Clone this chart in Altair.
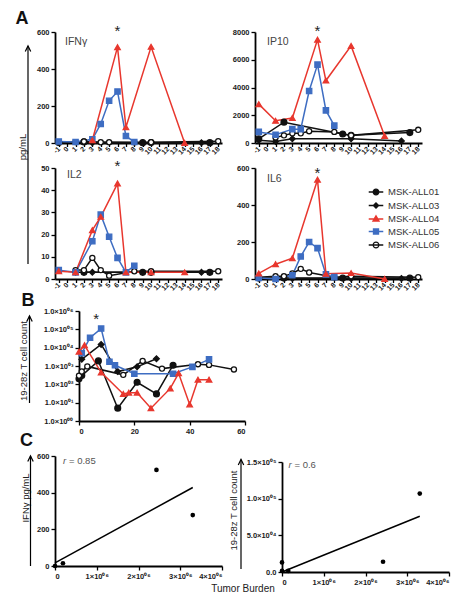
import altair as alt
import pandas as pd

PATIENTS = ["MSK-ALL01", "MSK-ALL03", "MSK-ALL04", "MSK-ALL05", "MSK-ALL06"]
DRAW_ORDER = ["MSK-ALL01", "MSK-ALL03", "MSK-ALL06", "MSK-ALL05", "MSK-ALL04"]
DAYS = [str(d) for d in [-1, 0, 1, 2, 3, 4, 5, 6, 7, 8, 9, 10, 11, 12, 13, 14, 15, 16, 17, 18]]

RED = "#e8372e"
BLUE = "#3e6dc2"
BLK = "#111111"
COLOR_RANGE = [BLK, BLK, RED, BLUE, BLK]
FILL_RANGE = [BLK, BLK, RED, BLUE, "#ffffff"]
SHAPE_RANGE = ["circle", "diamond", "triangle-up", "square", "circle"]
SIZE_RANGE = [34, 26, 38, 36, 40]
LEG_SHAPES = [
    "M-1.15,0H1.15M0.45,0A0.45,0.45,0,1,1,-0.45,0A0.45,0.45,0,1,1,0.45,0Z",
    "M-1.15,0H1.15M0,-0.42L0.42,0L0,0.42L-0.42,0Z",
    "M-1.15,0H1.15M0,-0.5L0.48,0.32L-0.48,0.32Z",
    "M-1.15,0H1.15M-0.4,-0.4H0.4V0.4H-0.4Z",
    "M-1.15,0H1.15M0.45,0A0.45,0.45,0,1,1,-0.45,0A0.45,0.45,0,1,1,0.45,0Z",
]

# ---- Panel A (day, value) per patient ----
IFNG = {
    "MSK-ALL01": ([-1, 2, 9, 10, 17], [3, 6, 2, 3, 2]),
    "MSK-ALL03": ([3, 9, 16], [2, 2, 2]),
    "MSK-ALL04": ([3, 6, 7, 10, 14], [15, 518, 85, 520, 0]),
    "MSK-ALL05": ([-1, 1, 3, 4, 5, 6, 7, 8], [8, 5, 20, 103, 228, 278, 38, 5]),
    "MSK-ALL06": ([-1, 1, 2, 4, 5, 8, 10, 18], [5, 5, 8, 4, 4, 4, 4, 10]),
}
IP10 = {
    "MSK-ALL01": ([-1, 2, 9, 10, 17], [300, 1500, 650, 550, 750]),
    "MSK-ALL03": ([-1, 1, 3, 10, 16], [200, 100, 300, 300, 150]),
    "MSK-ALL04": ([-1, 1, 3, 6, 7, 10, 14], [2800, 1600, 1800, 7450, 4500, 7000, 500]),
    "MSK-ALL05": ([-1, 1, 3, 4, 5, 6, 7, 8], [800, 600, 1000, 1000, 3750, 5650, 2350, 1250]),
    "MSK-ALL06": ([1, 2, 3, 4, 5, 8, 10, 18], [400, 550, 700, 700, 850, 800, 550, 950]),
}
IL2 = {
    "MSK-ALL01": ([2, 9, 10, 17], [3, 3, 3, 3]),
    "MSK-ALL03": ([1, 3, 16], [3, 3, 3]),
    "MSK-ALL04": ([-1, 1, 3, 4, 6, 7, 10, 14], [3.5, 3, 22, 28, 43, 3, 3, 3]),
    "MSK-ALL05": ([-1, 1, 3, 4, 5, 6, 7, 8], [4, 3, 17, 29, 19, 9.5, 3, 6]),
    "MSK-ALL06": ([1, 2, 3, 4, 5, 8, 10, 18], [4, 4, 9.5, 4, 1.5, 3.5, 3.5, 3.5]),
}
IL6 = {
    "MSK-ALL01": ([-1, 2, 9, 17], [5, 5, 5, 5]),
    "MSK-ALL03": ([3, 10, 16], [3, 3, 3]),
    "MSK-ALL04": ([-1, 1, 3, 6, 7, 10, 14], [30, 80, 112, 537, 28, 32, 0]),
    "MSK-ALL05": ([-1, 1, 3, 4, 5, 6, 7, 8], [5, 0, 20, 122, 200, 167, 25, 10]),
    "MSK-ALL06": ([-1, 1, 2, 3, 4, 5, 8, 10, 18], [10, 15, 15, 30, 55, 35, 10, 15, 10]),
}

# ---- Panel B: 19-28z T cell counts ----
TCELL = {
    "MSK-ALL01": ([0, 1, 7, 14, 21, 28, 34], [200, 300, 1900, 5, 130, 30, 1100]),
    "MSK-ALL03": ([1, 8, 14, 21, 28], [2300, 15000, 500, 900, 2500]),
    "MSK-ALL04": ([0, 2, 8, 16, 18, 21, 26, 33, 36, 40, 43, 47],
                  [6000, 13500, 450, 30, 35, 35, 5, 60, 400, 8, 180, 180]),
    "MSK-ALL05": ([1, 4, 8, 11, 13, 20, 34, 41, 47],
                  [5000, 35000, 110000, 1700, 1100, 380, 380, 900, 2300]),
    "MSK-ALL06": ([0, 1, 3, 16, 23, 30, 43, 47, 56],
                  [300, 500, 950, 330, 1900, 720, 1250, 1150, 650]),
}

# ---- Panel C ----
BURDEN_L = [0, 190000, 2430000, 3300000]
IFNG_PEAK = [0, 15, 524, 278]
FIT_L_X = [0, 3300000]
FIT_L_Y = [17, 428]
BURDEN_R = [0, 0, 150000, 2420000, 3300000]
TCELL_PEAK = [13000, 1500, 1500, 14000, 107000]
FIT_R_X = [0, 3300000]
FIT_R_Y = [0, 76000]

FONT = "Liberation Sans"
ONE = pd.DataFrame({"k": [0]})

color_sc = alt.Scale(domain=PATIENTS, range=COLOR_RANGE)
fill_sc = alt.Scale(domain=PATIENTS, range=FILL_RANGE)
shape_sc = alt.Scale(domain=PATIENTS, range=SHAPE_RANGE)
size_sc = alt.Scale(domain=PATIENTS, range=SIZE_RANGE)

# layout constants (pixels)
CELL_W = 167
B_DX, B_DY, B_H = 24, 7, 117
CL_DY, CL_H = 10, 120
CR_DX, CR_DY, CR_H = 27, 16, 126


def long_df(d, categorical=True):
    rows = []
    for p in DRAW_ORDER:
        days, vals = d[p]
        for dd, v in zip(days, vals):
            rows.append({"patient": p, "day": str(dd) if categorical else dd,
                         "idx": DAYS.index(str(dd)) if categorical else dd, "value": v})
    return pd.DataFrame(rows)


def txt(text, x, y, size=9.5, **kw):
    return alt.Chart(ONE).mark_text(text=text, fontSize=size, font=FONT, **kw).encode(
        x=alt.value(x), y=alt.value(y))


def arrow(x, y1, y2):
    line = alt.Chart(ONE).mark_rule(color="black", strokeWidth=1.2).encode(
        x=alt.value(x), y=alt.value(y1), y2=alt.value(y2))
    head = alt.Chart(ONE).mark_point(shape="M-1,1L0,-1L1,1", filled=False, color="black",
                                     strokeWidth=1.2, size=30, opacity=1).encode(
        x=alt.value(x), y=alt.value(y1 + 2.7))
    return [line, head]


def series_layers(df, x, y):
    lines = alt.Chart(df).mark_line(strokeWidth=1.5).encode(
        x=x, y=y, color=alt.Color("patient:N", scale=color_sc, legend=None),
        detail="patient:N", order="idx:Q")
    pts = alt.Chart(df).mark_point(filled=True, opacity=1, strokeWidth=1.3).encode(
        x=x, y=y,
        fill=alt.Fill("patient:N", scale=fill_sc, legend=None),
        stroke=alt.Stroke("patient:N", scale=color_sc, legend=None),
        shape=alt.Shape("patient:N", scale=shape_sc, legend=None),
        size=alt.Size("patient:N", scale=size_sc, legend=None))
    return [lines, pts]


def cyto_panel(d, ymax, ystep, label, lab_xy, star_y, extra=None, legend=False):
    df = long_df(d)
    x = alt.X("day:N", sort=DAYS, scale=alt.Scale(domain=DAYS, type="point", padding=0.45),
              axis=alt.Axis(title=None, labelAngle=-45, labelAlign="right", labelBaseline="middle",
                            labelFontSize=7, labelOverlap=False, labelPadding=1, tickSize=3.5))
    y = alt.Y("value:Q", scale=alt.Scale(domain=[0, ymax], nice=False, zero=True),
              axis=alt.Axis(title=None, values=list(range(0, ymax + 1, ystep)), format="d"))
    layers = series_layers(df, x, y)
    star = alt.Chart(pd.DataFrame({"day": ["6"]})).mark_text(
        text="*", fontSize=15, font=FONT, color="#222", baseline="middle").encode(
        x=alt.X("day:N", sort=DAYS), y=alt.value(star_y))
    layers += [star, txt(label, lab_xy[0], lab_xy[1], 10.5, color="#444", align="left", baseline="middle")]
    if extra:
        layers += extra
    if legend:
        leg_df = pd.DataFrame({"patient": pd.Series([], dtype=str)})
        lg = alt.Legend(title=None, orient="none", legendX=114, legendY=17, symbolSize=160,
                        symbolStrokeWidth=1.3, labelFontSize=9.5, labelColor="#333", labelFont=FONT,
                        labelFontWeight="normal", rowPadding=0.5, labelOffset=5, padding=0)
        leg = alt.Chart(leg_df).mark_point(filled=True, opacity=1).encode(
            shape=alt.Shape("patient:N", scale=alt.Scale(domain=PATIENTS, range=LEG_SHAPES), legend=lg),
            fill=alt.Fill("patient:N", scale=alt.Scale(domain=PATIENTS, range=FILL_RANGE), legend=lg),
            stroke=alt.Stroke("patient:N", scale=alt.Scale(domain=PATIENTS, range=COLOR_RANGE), legend=lg))
        layers.append(leg)
        ch = alt.layer(*layers).resolve_scale(shape="independent", fill="independent",
                                              stroke="independent")
    else:
        ch = alt.layer(*layers)
    return ch.properties(width=CELL_W, height=111)


A_extra = [txt("A", -33, -13, 18, fontWeight="bold", align="center", baseline="middle", color="#111"),
           txt("pg/mL", -32, 115, 9.5, angle=270, align="center", baseline="middle", color="#222")] + arrow(-27, 14, 232)

ifng = cyto_panel(IFNG, 600, 200, "IFN\u03b3", (10, 10), -1, extra=A_extra)
ip10 = cyto_panel(IP10, 8000, 2000, "IP10", (12, 10), -1)
il2 = cyto_panel(IL2, 50, 10, "IL2", (12, 7), -2)
il6 = cyto_panel(IL6, 600, 200, "IL6", (12, 11), 5, legend=True)

# ---- Panel B ----
dfb = long_df(TCELL, categorical=False)
SUP = "['\u2070\u2070','\u2070\u00b9','\u2070\u00b2','\u2070\u00b3','\u2070\u2074','\u2070\u2075','\u2070\u2076']"
xb = alt.X("day:Q", scale=alt.Scale(domain=[0, 60], nice=False, range=[B_DX, B_DX + 166]),
           axis=alt.Axis(title=None, values=[0, 20, 40, 60], format="d"))
yb = alt.Y("value:Q", scale=alt.Scale(type="log", domain=[1, 1000000], nice=False, range=[B_H, B_DY]),
           axis=alt.Axis(title=None, values=[1, 10, 100, 1000, 10000, 100000, 1000000], offset=-B_DX,
                         labelExpr="'1.0\u00d710' + " + SUP + "[round(log(datum.value)/LN10)]"))
b_layers = series_layers(dfb, xb, yb)
b_star = alt.Chart(pd.DataFrame({"day": [6.2]})).mark_text(
    text="*", fontSize=15, font=FONT, color="#222", baseline="middle").encode(
    x="day:Q", y=alt.value(B_DY + 8))
b_layers += [b_star,
             txt("B", B_DX - 51, B_DY - 10, 18, fontWeight="bold", align="center", baseline="middle", color="#111"),
             txt("19-28z T cell count", B_DX - 55.5, B_DY + 50, 9.5, angle=270, align="center",
                 baseline="middle", color="#222")] + arrow(B_DX - 49.5, B_DY + 5, B_DY + 92)
panel_b = alt.layer(*b_layers).properties(width=CELL_W, height=B_H)

# ---- Panel C ----
xfmt = "datum.value == 0 ? '0' : format(datum.value/1000000, 'd') + '\u00d710\u2070\u2076'"


def xc(dx):
    return alt.X("x:Q", scale=alt.Scale(domain=[0, 4000000], nice=False, range=[dx, dx + 167]),
                 axis=alt.Axis(title=None, values=[0, 1000000, 2000000, 3000000, 4000000], labelExpr=xfmt))


dfl = pd.DataFrame({"x": BURDEN_L, "y": IFNG_PEAK})
dflf = pd.DataFrame({"x": FIT_L_X, "y": FIT_L_Y})
ycl = alt.Y("y:Q", scale=alt.Scale(domain=[0, 600], nice=False, range=[CL_H, CL_DY]),
            axis=alt.Axis(title=None, values=[0, 200, 400, 600], format="d"))
c_left = alt.layer(
    alt.Chart(dflf).mark_line(color="black", strokeWidth=1.5).encode(x=xc(0), y=ycl),
    alt.Chart(dfl).mark_circle(color="black", size=22, opacity=1).encode(x=xc(0), y=ycl),
    txt("C", -28.5, CL_DY - 15, 18, fontWeight="bold", align="center", baseline="middle", color="#111"),
    txt("IFN\u03b3 pg/mL", -29, CL_DY + 42, 9.5, angle=270, align="center", baseline="middle", color="#222"),
    *arrow(-24.5, CL_DY, CL_DY + 110),
    txt("r", 8, CL_DY + 4.5, 9.5, fontStyle="italic", align="left", baseline="middle", color="#555"),
    txt("= 0.85", 14, CL_DY + 4.5, 9.5, align="left", baseline="middle", color="#555"),
    txt("Tumor Burden", 188, CL_DY + 133, 10, align="center", baseline="middle", color="#222"),
).properties(width=CELL_W, height=CL_H)

yfmt = ("datum.value == 0 ? '0.0' : (datum.value >= 100000 ? format(datum.value/100000, '.1f') + "
        "'\u00d710\u2070\u2075' : format(datum.value/10000, '.1f') + '\u00d710\u2070\u2074')")
ycr = alt.Y("y:Q", scale=alt.Scale(domain=[0, 150000], nice=False, range=[CR_H, CR_DY]),
            axis=alt.Axis(title=None, values=[0, 50000, 100000, 150000], labelExpr=yfmt, offset=-CR_DX))
dfr = pd.DataFrame({"x": BURDEN_R, "y": TCELL_PEAK})
dfrf = pd.DataFrame({"x": FIT_R_X, "y": FIT_R_Y})
c_right = alt.layer(
    alt.Chart(dfrf).mark_line(color="black", strokeWidth=1.5).encode(x=xc(CR_DX), y=ycr),
    alt.Chart(dfr).mark_circle(color="black", size=22, opacity=1).encode(x=xc(CR_DX), y=ycr),
    txt("19-28z T cell count", CR_DX - 48.5, CR_DY + 48.5, 9.5, angle=270, align="center",
        baseline="middle", color="#222"),
    *arrow(CR_DX - 41, CR_DY - 2.5, CR_DY + 107),
    txt("r", CR_DX + 6.5, CR_DY + 2.5, 9.5, fontStyle="italic", align="left", baseline="middle", color="#555"),
    txt("= 0.6", CR_DX + 12.5, CR_DY + 2.5, 9.5, align="left", baseline="middle", color="#555"),
).properties(width=CELL_W, height=CR_H)

spacer = alt.Chart(ONE).mark_point(opacity=0).encode(
    x=alt.X("k:Q", axis=None), y=alt.Y("k:Q", axis=None)).properties(width=1, height=1)

chart = alt.concat(ifng, ip10, il2, il6, panel_b, spacer, c_left, c_right, columns=2,
                   spacing={"row": 25, "column": 33},
                   bounds="flush").properties(
    padding={"left": 7, "top": 2, "right": 5, "bottom": 5}
).configure(font=FONT).configure_view(stroke=None).configure_axis(
    domainColor="black", domainWidth=1.8, tickColor="black", tickWidth=1.3, tickSize=4,
    labelColor="#1a1a1a", labelFont=FONT, labelFontSize=7.5, labelFontWeight="bold",
    grid=False, labelPadding=2)

chart.save("out.html", embed_options={"renderer": "svg", "actions": False})
